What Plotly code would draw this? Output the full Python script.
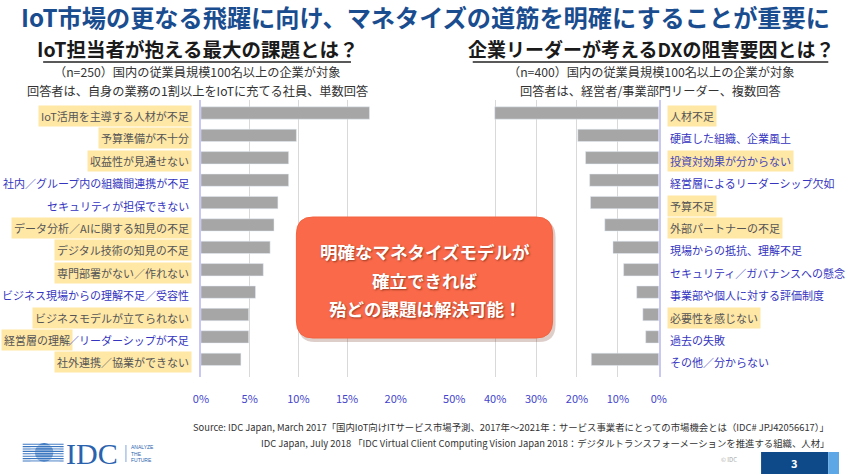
import plotly.graph_objects as go

W, H = 850, 474
FONT = "Noto Sans CJK JP"

# ---------------- data ----------------
left_labels = [
    "IoT活用を主導する人材が不足", "予算準備が不十分", "収益性が見通せない",
    "社内／グループ内の組織間連携が不足", "セキュリティが担保できない",
    "データ分析／AIに関する知見の不足", "デジタル技術の知見の不足",
    "専門部署がない／作れない", "ビジネス現場からの理解不足／受容性",
    "ビジネスモデルが立てられない", "経営層の理解／リーダーシップが不足",
    "社外連携／協業ができない",
]
left_values = [17.3, 9.8, 9.0, 9.0, 7.9, 7.5, 7.1, 6.4, 5.6, 4.9, 4.9, 4.1]
left_highlight = [1, 1, 1, 0, 0, 1, 1, 1, 0, 1, 2, 1]  # 2 = partial

right_labels = [
    "人材不足", "硬直した組織、企業風土", "投資対効果が分からない",
    "経営層によるリーダーシップ欠如", "予算不足", "外部パートナーの不足",
    "現場からの抵抗、理解不足", "セキュリティ／ガバナンスへの懸念",
    "事業部や個人に対する評価制度", "必要性を感じない", "過去の失敗",
    "その他／分からない",
]
right_values = [40.1, 19.8, 17.9, 16.9, 16.7, 13.2, 11.2, 8.6, 5.4, 3.9, 3.2, 16.5]
right_highlight = [1, 0, 1, 0, 1, 1, 0, 0, 0, 1, 0, 0]

left_ticks = [0, 5, 10, 15, 20]
right_ticks = [50, 40, 30, 20, 10, 0]

title = "IoT市場の更なる飛躍に向け、マネタイズの道筋を明確にすることが重要に"
left_sub = "IoT担当者が抱える最大の課題とは？"
left_note1 = "（n=250）国内の従業員規模100名以上の企業が対象"
left_note2 = "回答者は、自身の業務の1割以上をIoTに充てる社員、単数回答"
right_sub = "企業リーダーが考えるDXの阻害要因とは？"
right_note1 = "（n=400）国内の従業員規模100名以上の企業が対象"
right_note2 = "回答者は、経営者/事業部門リーダー、複数回答"
callout_lines = ["明確なマネタイズモデルが", "確立できれば", "殆どの課題は解決可能！"]
source1 = "Source: IDC Japan, March 2017「国内IoT向けITサービス市場予測、2017年～2021年：サービス事業者にとっての市場機会とは（IDC# JPJ42056617）」"
source2 = "IDC Japan, July 2018 「IDC Virtual Client Computing Vision Japan 2018：デジタルトランスフォーメーションを推進する組織、人材」"

# ---------------- helpers ----------------
def px(x):
    return x / W

def py(y):
    return 1 - y / H

BAR = "#A6A6A6"
GRID = "#D9D9D9"
AXLINE = "#C8C8F2"
BLUE_TXT = "#3535C0"
GRAY_TXT = "#555555"
HL = "#FFE7A6"

n = len(left_labels)
ypos = list(range(n))

fig = go.Figure()
fig.add_trace(go.Bar(x=left_values, y=ypos, orientation="h", marker_color=BAR,
                     xaxis="x", yaxis="y", hoverinfo="skip"))
fig.add_trace(go.Bar(x=right_values, y=ypos, orientation="h", marker_color=BAR,
                     xaxis="x2", yaxis="y2", hoverinfo="skip"))

yrange = [11.79, -0.58]
ydom = [py(377), py(100)]
tickfont = dict(family=FONT, size=11, color="#4444CC")

fig.update_layout(
    width=W, height=H,
    margin=dict(l=0, r=0, t=0, b=0),
    paper_bgcolor="white", plot_bgcolor="white",
    showlegend=False, bargap=0.45,
    xaxis=dict(domain=[px(195), px(395)], range=[0, 20], tickvals=left_ticks,
               ticktext=[f"{v}%" for v in left_ticks], showgrid=True,
               gridcolor=GRID, zeroline=False, showline=False, ticks="",
               tickfont=tickfont, anchor="y", ticklabelstandoff=14),
    yaxis=dict(domain=ydom, range=yrange, showticklabels=False, showgrid=False,
               zeroline=False, showline=True, linecolor=AXLINE, linewidth=1.5,
               anchor="x", ticks=""),
    xaxis2=dict(domain=[px(455), px(665)], range=[50, 0], tickvals=right_ticks,
                ticktext=[f"{v}%" for v in right_ticks], showgrid=True,
                gridcolor=GRID, zeroline=False, showline=False, ticks="",
                tickfont=tickfont, anchor="y2", ticklabelstandoff=14),
    yaxis2=dict(domain=ydom, range=yrange, showticklabels=False, showgrid=False,
                zeroline=False, showline=True, linecolor=AXLINE, linewidth=1.5,
                anchor="x2", side="right", ticks=""),
)

ann = []
shapes = []

# title
ann.append(dict(text=f"<b>{title}</b>", x=px(425), y=py(16), xref="paper", yref="paper",
                showarrow=False, font=dict(family=FONT, size=24.2, color="#1A4D8F"),
                xanchor="center", yanchor="middle", borderpad=0))

# subtitles
for cx, sub, n1, n2, x0, x1, fs in [(191, left_sub, left_note1, left_note2, 33, 349, 19.5),
                                    (657, right_sub, right_note1, right_note2, 474, 839, 19)]:
    ann.append(dict(text=f"<b>{sub}</b>", x=px(cx), y=py(49), xref="paper", yref="paper",
                    showarrow=False, font=dict(family=FONT, size=fs, color="#1a1a1a"),
                    xanchor="center", yanchor="middle", borderpad=0))
    ann.append(dict(text=n1, x=px(cx), y=py(72.5), xref="paper", yref="paper",
                    showarrow=False, font=dict(family=FONT, size=12.2, color="#333333"),
                    xanchor="center", yanchor="middle", borderpad=0))
    ann.append(dict(text=n2, x=px(cx), y=py(90.5), xref="paper", yref="paper",
                    showarrow=False, font=dict(family=FONT, size=12.2, color="#333333"),
                    xanchor="center", yanchor="middle", borderpad=0))
    shapes.append(dict(type="line", xref="paper", yref="paper", x0=px(x0), x1=px(x1),
                       y0=py(62), y1=py(62), line=dict(color="#222222", width=1.5)))

lab_font_size = 11
LX = 186
# left labels
for i, (lab, hl) in enumerate(zip(left_labels, left_highlight)):
    if hl == 2:
        a, b = lab.split("／", 1)
        b = "／" + b
        ann.append(dict(text=a, x=px(64), y=i, xref="paper", yref="y", showarrow=False,
                        xanchor="right", yanchor="middle", yshift=-3, borderpad=2,
                        bgcolor=HL,
                        font=dict(family=FONT, size=lab_font_size, color=GRAY_TXT)))
        ann.append(dict(text=b, x=px(LX), y=i, xref="paper", yref="y", showarrow=False,
                        xanchor="right", yanchor="middle", yshift=-3, borderpad=2,
                        font=dict(family=FONT, size=lab_font_size, color=BLUE_TXT)))
    else:
        ann.append(dict(text=lab, x=px(LX), y=i, xref="paper", yref="y", showarrow=False,
                        xanchor="right", yanchor="middle", yshift=-3, borderpad=2,
                        bgcolor=HL if hl else "rgba(0,0,0,0)",
                        font=dict(family=FONT, size=lab_font_size,
                                  color=GRAY_TXT if hl else BLUE_TXT)))

# right labels
for i, (lab, hl) in enumerate(zip(right_labels, right_highlight)):
    col = GRAY_TXT if hl else BLUE_TXT
    if lab.startswith("投資対効果"):
        col = "#4646B8"
    ann.append(dict(text=lab, x=px(673), y=i, xref="paper", yref="y2", showarrow=False,
                    xanchor="left", yanchor="middle", yshift=-3, borderpad=2,
                    bgcolor=HL if hl else "rgba(0,0,0,0)",
                    font=dict(family=FONT, size=lab_font_size, color=col)))

# callout box (rounded rect)
def rrect(x0, y0, x1, y1, r):
    X0, X1 = px(x0), px(x1)
    Y0, Y1 = py(y0), py(y1)
    rx, ry = r / W, r / H
    return (f"M {X0+rx},{Y0} L {X1-rx},{Y0} Q {X1},{Y0} {X1},{Y0-ry} "
            f"L {X1},{Y1+ry} Q {X1},{Y1} {X1-rx},{Y1} L {X0+rx},{Y1} "
            f"Q {X0},{Y1} {X0},{Y1+ry} L {X0},{Y0-ry} Q {X0},{Y0} {X0+rx},{Y0} Z")

shapes.append(dict(type="path", xref="paper", yref="paper", path=rrect(295, 220, 559, 342, 17),
                   fillcolor="rgba(120,60,40,0.25)", line=dict(width=0), layer="above"))
shapes.append(dict(type="path", xref="paper", yref="paper", path=rrect(293, 217, 556, 338, 17),
                   fillcolor="#FA6A4A", line=dict(color="#F4623F", width=1), layer="above"))
for j, (line, yy) in enumerate(zip(callout_lines, [252, 280, 308])):
    ann.append(dict(text=f"<b>{line}</b>", x=px(425), y=py(yy), xref="paper", yref="paper",
                    showarrow=False, xanchor="center", yanchor="middle",
                    font=dict(family=FONT, size=17.5, color="white",
                              shadow="1px 1px 2px rgba(80,20,0,0.55)")))

# sources
ann.append(dict(text=source1, x=px(842), y=py(427), xref="paper", yref="paper",
                showarrow=False, xanchor="right", yanchor="middle",
                font=dict(family=FONT, size=9.4, color="#333333")))
ann.append(dict(text=source2, x=px(842), y=py(443), xref="paper", yref="paper",
                showarrow=False, xanchor="right", yanchor="middle",
                font=dict(family=FONT, size=9.4, color="#333333")))

# footer: © IDC and page box
ann.append(dict(text="© IDC", x=px(737), y=py(459), xref="paper", yref="paper",
                showarrow=False, xanchor="center", yanchor="middle",
                font=dict(family=FONT, size=6, color="#AAAAAA")))
shapes.append(dict(type="rect", xref="paper", yref="paper", x0=px(770), x1=px(839),
                   y0=py(474), y1=py(452), fillcolor="#0E4A8A", line=dict(width=0)))
shapes.append(dict(type="rect", xref="paper", yref="paper", x0=px(839), x1=px(850),
                   y0=py(474), y1=py(452), fillcolor="#5DA7E6", line=dict(width=0)))
ann.append(dict(text="<b>3</b>", x=px(804), y=py(463), xref="paper", yref="paper",
                showarrow=False, xanchor="center", yanchor="middle",
                font=dict(family=FONT, size=11, color="white")))

# IDC logo
gcx, gcy, gr = 34, 452.5, 9.5
shapes.append(dict(type="circle", xref="paper", yref="paper", x0=px(gcx - gr), x1=px(gcx + gr),
                   y0=py(gcy + gr), y1=py(gcy - gr), fillcolor="#3A76C0", line=dict(width=0)))
for k in range(8):
    yy = 444.2 + k * 2.4
    shapes.append(dict(type="line", xref="paper", yref="paper", x0=px(12), x1=px(54),
                       y0=py(yy), y1=py(yy), line=dict(color="#3A76C0", width=1.1)))
    shapes.append(dict(type="line", xref="paper", yref="paper", x0=px(20), x1=px(50),
                       y0=py(yy + 1.2), y1=py(yy + 1.2), line=dict(color="white", width=0.7)))
ann.append(dict(text="IDC", x=px(83), y=py(453), xref="paper", yref="paper",
                showarrow=False, xanchor="center", yanchor="middle",
                font=dict(family="Liberation Serif", size=30, color="#2A62AE")))
shapes.append(dict(type="line", xref="paper", yref="paper", x0=px(118), x1=px(118),
                   y0=py(445), y1=py(462), line=dict(color="#7FA8DA", width=1)))
ann.append(dict(text="ANALYZE<br>THE<br>FUTURE", x=px(121), y=py(453), xref="paper",
                yref="paper", showarrow=False, xanchor="left", yanchor="middle", align="left",
                font=dict(family="Liberation Sans", size=5, color="#2A62AE")))

fig.update_layout(annotations=ann, shapes=shapes)
fig.write_html("out.html")
